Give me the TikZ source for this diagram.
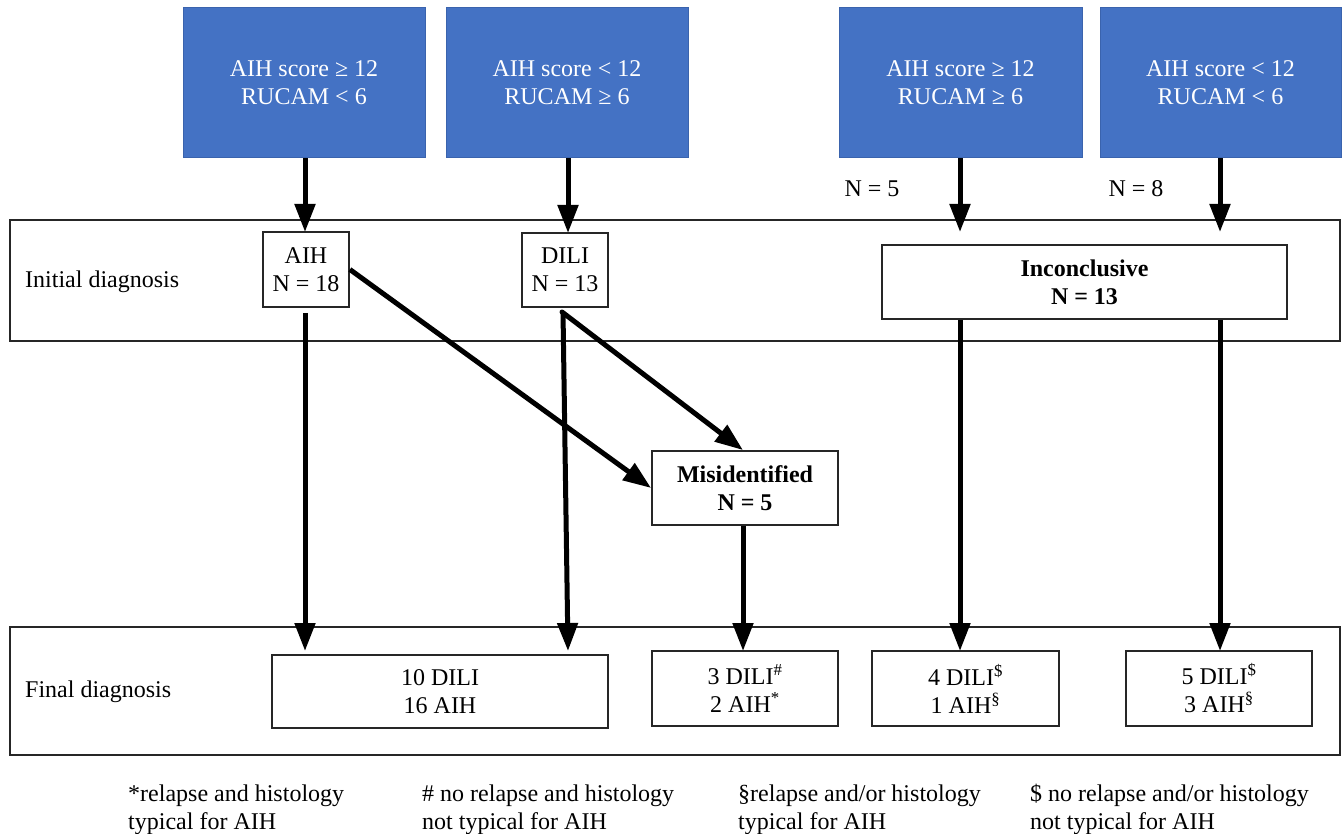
\documentclass[tikz,border=0pt]{standalone}
\usepackage{fontspec}
\setmainfont{Liberation Serif}
\newfontfamily\diagserif{Liberation Serif}
\usetikzlibrary{arrows.meta}
\definecolor{boxblue}{HTML}{4472C4}
\definecolor{boxblueedge}{HTML}{3A63AD}
\begin{document}
\begin{tikzpicture}[x=1pt,y=-1pt,
  every node/.style={font=\diagserif\fontsize{24}{28}\selectfont},
  bluebox/.style={rectangle, fill=boxblue, draw=boxblueedge, line width=1pt, text=white, align=center, inner sep=0pt, minimum height=150pt},
  framebox/.style={rectangle, draw=black!85, line width=1.8pt, inner sep=0pt},
  smallbox/.style={rectangle, draw=black!85, line width=1.8pt, align=center, inner sep=0pt},
  boldtext/.style={font=\diagserif\fontsize{24}{28}\selectfont\bfseries},
  lbl/.style={inner sep=0pt},
  foot/.style={inner sep=0pt, anchor=base west},
  flow/.style={line width=5pt, -{Triangle[length=28pt,width=20pt]}}
]
\useasboundingbox (0,0) rectangle (1343,834);

% top blue boxes
\node[bluebox, minimum width=242pt] (b1) at (304,83) {AIH score ≥ 12\\RUCAM < 6};
\node[bluebox, minimum width=242pt] (b2) at (567,83) {AIH score < 12\\RUCAM ≥ 6};
\node[bluebox, minimum width=243pt] (b3) at (960.5,83) {AIH score ≥ 12\\RUCAM ≥ 6};
\node[bluebox, minimum width=241pt] (b4) at (1220.5,83) {AIH score < 12\\RUCAM < 6};

% frames
\node[framebox, minimum width=1330pt, minimum height=121pt] (initframe) at (675,280.5) {};
\node[framebox, minimum width=1330pt, minimum height=128pt] (finframe) at (675,691) {};
\node[lbl, anchor=west] (initlbl) at (25,282) {Initial diagnosis};
\node[lbl, anchor=west] (finlbl) at (25,692) {Final diagnosis};

% initial diagnosis boxes
\node[smallbox, minimum width=86pt, minimum height=75pt] (aih) at (306,269.5) {AIH\\N = 18};
\node[smallbox, minimum width=86pt, minimum height=74pt] (dili) at (565,270) {DILI\\N = 13};
\node[smallbox, boldtext, minimum width=405pt, minimum height=74pt] (inconc) at (1084.5,282) {Inconclusive\\N = 13};

\node[lbl] (n5) at (872,189) {N = 5};
\node[lbl] (n8) at (1136,189) {N = 8};

% misidentified
\node[smallbox, boldtext, minimum width=186pt, minimum height=74pt] (misid) at (745,488) {Misidentified\\N = 5};

% final boxes
\node[smallbox, minimum width=336pt, minimum height=73pt] (fin1) at (440,691.5) {10 DILI\\16 AIH};
\node[smallbox, minimum width=186pt, minimum height=75pt] (fin2) at (745,688.5) {3 DILI\textsuperscript{\#}\\2 AIH\textsuperscript{*}};
\node[smallbox, minimum width=187pt, minimum height=75pt] (fin3) at (965.5,688.5) {4 DILI\textsuperscript{\$}\\1 AIH\textsuperscript{§}};
\node[smallbox, minimum width=186pt, minimum height=75pt] (fin4) at (1219,688.5) {5 DILI\textsuperscript{\$}\\3 AIH\textsuperscript{§}};

% free ends for arrows into the inconclusive row
\coordinate (t3) at (960,232);
\coordinate (t4) at (1220,232);

% arrows from blue boxes
\draw[flow] (b1.south -| 305,0) -- (305,232);
\draw[flow] (b2.south -| 568,0) -- (568,233);
\draw[flow] (b3.south -| t3) -- (t3);
\draw[flow] (b4.south -| t4) -- (t4);

% arrows down to final diagnosis
\draw[flow] ([yshift=-5pt]aih.south -| 305,0) -- (305,651);
\draw[flow] (563,312) -- (568,651);
\draw[flow] (misid.south -| 743,0) -- (743,651);
\draw[flow] (inconc.south -| t3) -- (960,651);
\draw[flow] (inconc.south -| t4) -- (1220,651);

% diagonal arrows to misidentified
\draw[flow] (aih.east) -- (misid.west);
\draw[flow, line cap=round] (562,312) -- (misid.north -| 743,0);

% footnotes
\node[foot] (f1a) at (128,801) {*relapse and histology};
\node[foot] (f1b) at (128,829) {typical for AIH};
\node[foot] (f2a) at (422,801) {\# no relapse and histology};
\node[foot] (f2b) at (422,829) {not typical for AIH};
\node[foot] (f3a) at (738,801) {§relapse and/or histology};
\node[foot] (f3b) at (738,829) {typical for AIH};
\node[foot] (f4a) at (1030,801) {\$ no relapse and/or histology};
\node[foot] (f4b) at (1030,829) {not typical for AIH};
\end{tikzpicture}
\end{document}
